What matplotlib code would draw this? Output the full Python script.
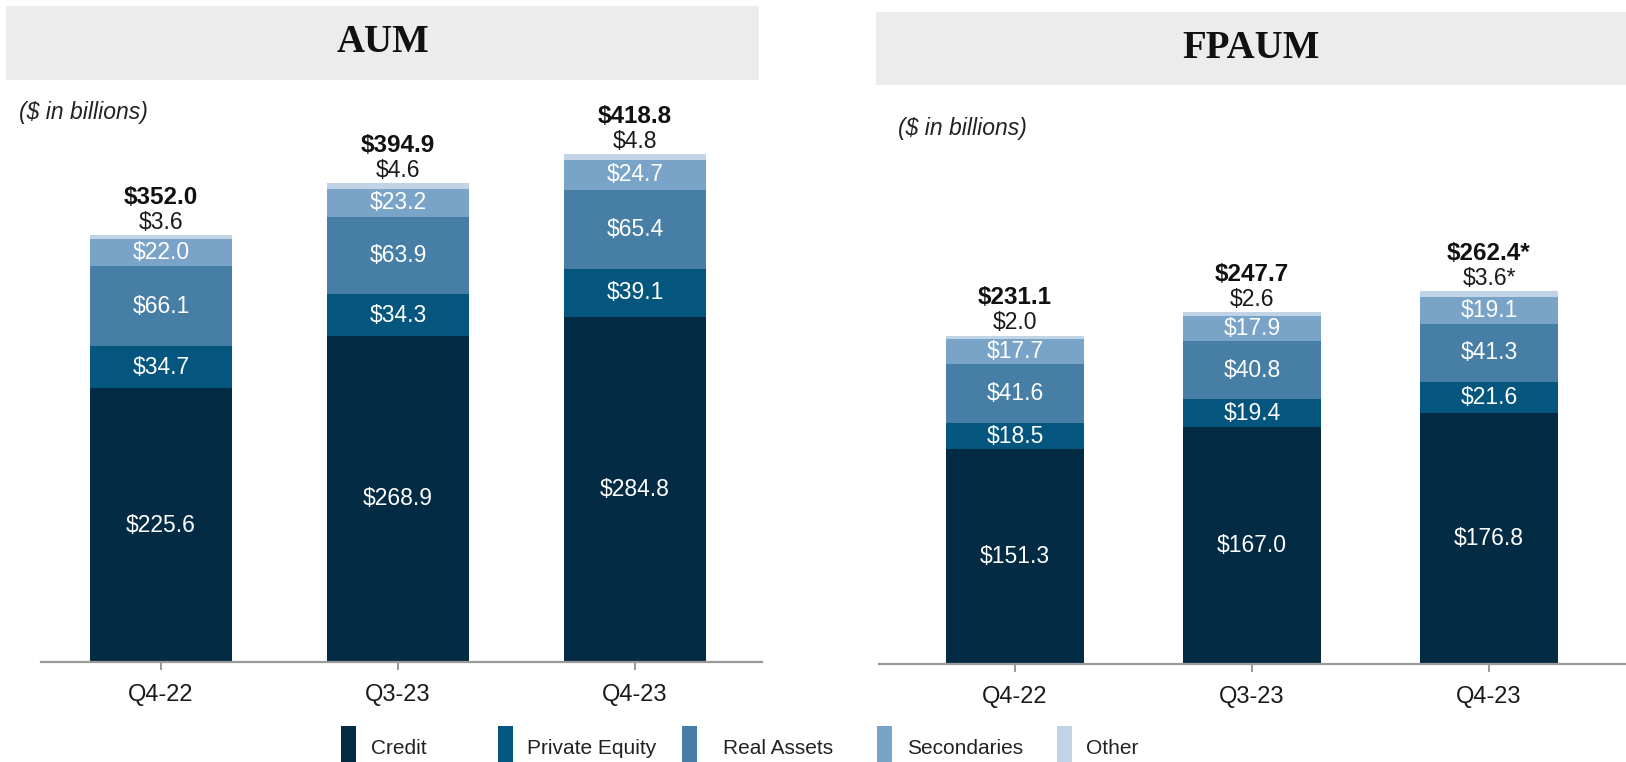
import numpy as np
import matplotlib.pyplot as plt
from matplotlib.patches import Rectangle

# données
quarters = ["Q4-22", "Q3-23", "Q4-23"]
categories = ["Credit", "Private Equity", "Real Assets", "Secondaries", "Other"]
colors = ["#032b44", "#04567f", "#467ea5", "#79a3c7", "#c0d4e6"]
label_colors = ["white", "white", "white", "white", "#1a1a1a"]

aum_credit = [225.6, 268.9, 284.8]
aum_pe = [34.7, 34.3, 39.1]
aum_real = [66.1, 63.9, 65.4]
aum_sec = [22.0, 23.2, 24.7]
aum_other = [3.6, 4.6, 4.8]
aum_total = [352.0, 394.9, 418.8]

fp_credit = [151.3, 167.0, 176.8]
fp_pe = [18.5, 19.4, 21.6]
fp_real = [41.6, 40.8, 41.3]
fp_sec = [17.7, 17.9, 19.1]
fp_other = [2.0, 2.6, 3.6]
fp_total = [231.1, 247.7, 262.4]
fp_star = ["", "", "*"]

W, H = 1626, 762
fig = plt.figure(figsize=(W / 100, H / 100), dpi=100)
plt.rcParams['font.family'] = ['Liberation Sans', 'DejaVu Sans']


def px(x, y, w, h):
    # pixels (depuis le haut) -> coordonnées figure
    return [x / W, 1 - (y + h) / H, w / W, h / H]


def draw_panel(ax, series, totals, stars, xlim, ylim, width):
    x = np.arange(len(quarters))
    bottom = np.zeros(len(quarters))
    for i, vals in enumerate(series):
        vals = np.array(vals)
        ax.bar(x, vals, width, bottom=bottom, color=colors[i], edgecolor="none")
        for j in range(len(x)):
            if i < 4:
                ax.text(x[j], bottom[j] + vals[j] / 2, f"${vals[j]:.1f}", ha="center", va="center",
                        color=label_colors[i], fontsize=16.5)
        bottom = bottom + vals
    for j in range(len(x)):
        ax.annotate(f"${series[4][j]:.1f}{stars[j]}", (x[j], bottom[j]), xytext=(0, 1),
                    textcoords="offset points", ha="center", va="bottom", fontsize=16.5, color="#1a1a1a")
        ax.annotate(f"${totals[j]:.1f}{stars[j]}", (x[j], bottom[j]), xytext=(0, 19),
                    textcoords="offset points", ha="center", va="bottom", fontsize=17.5,
                    fontweight="bold", color="#111111")
    ax.set_xlim(*xlim)
    ax.set_ylim(*ylim)
    ax.set_xticks(x)
    ax.set_xticklabels(quarters, fontsize=17, color="#1a1a1a")
    ax.set_yticks([])
    for s in ["top", "right", "left"]:
        ax.spines[s].set_visible(False)
    ax.spines["bottom"].set_color("#9a9a9a")
    ax.spines["bottom"].set_linewidth(1.6)
    ax.tick_params(axis="x", length=6, width=1.4, color="#9a9a9a", pad=10)
    ax.patch.set_alpha(0)


ax1 = fig.add_axes(px(41, 122, 721, 540))
draw_panel(ax1, [aum_credit, aum_pe, aum_real, aum_sec, aum_other], aum_total, ["", "", ""],
           (-0.506, 2.536), (0, 540 / 1.213), 0.6)

ax2 = fig.add_axes(px(879, 214, 747, 450))
draw_panel(ax2, [fp_credit, fp_pe, fp_real, fp_sec, fp_other], fp_total, fp_star,
           (-0.574, 2.578), (0, 450 / 1.42), 0.58)

# bandeaux de titre
for (bx, by, bw, bh, title) in [(6, 6, 753, 74, "AUM"), (876, 12, 750, 73, "FPAUM")]:
    fig.add_artist(Rectangle((bx / W, 1 - (by + bh) / H), bw / W, bh / H, transform=fig.transFigure,
                             facecolor="#ececec", edgecolor="none", zorder=0))
    fig.text((bx + bw / 2) / W, 1 - (by + bh / 2) / H, title, ha="center", va="center",
             fontsize=28, fontweight="bold", family="Liberation Serif", color="#111111")

fig.text(19 / W, 1 - 112 / H, "($ in billions)", ha="left", va="center", fontsize=16.5,
         style="italic", color="#222222")
fig.text(898 / W, 1 - 129 / H, "($ in billions)", ha="left", va="center", fontsize=16.5,
         style="italic", color="#222222")

# légende
leg_patch_x = [341, 498, 682, 877, 1057]
leg_text_x = [371, 527, 723, 907, 1086]
for i, cat in enumerate(categories):
    fig.add_artist(Rectangle((leg_patch_x[i] / W, 0), 15 / W, 36 / H, transform=fig.transFigure,
                             facecolor=colors[i], edgecolor="none"))
    fig.text(leg_text_x[i] / W, 1 - 749 / H, cat, ha="left", va="center", fontsize=15,
             color="#222222")

fig.savefig("out.png", dpi=100)
